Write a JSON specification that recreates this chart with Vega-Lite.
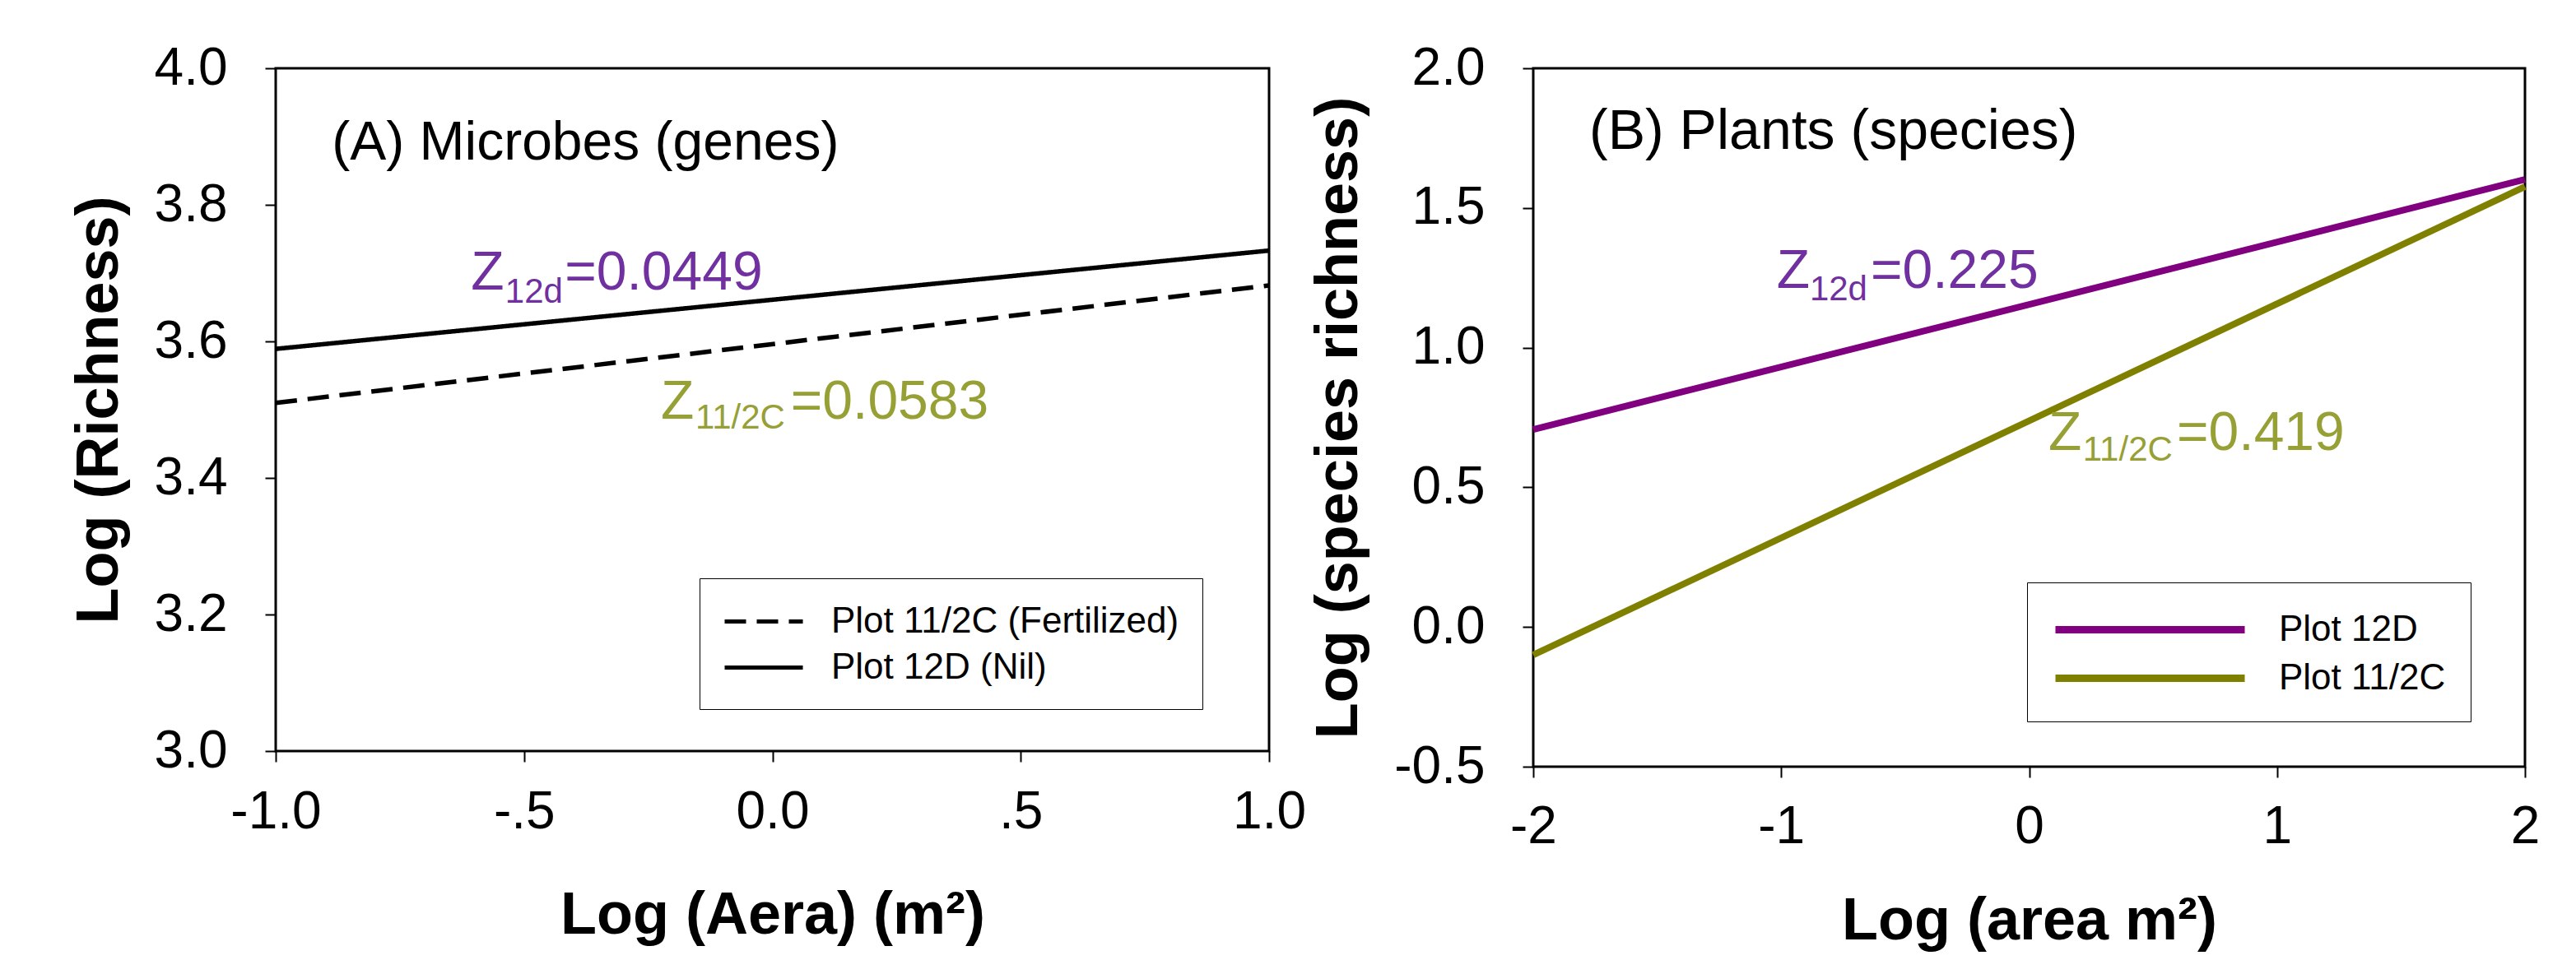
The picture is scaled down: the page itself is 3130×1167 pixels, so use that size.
{
  "$schema": "https://vega.github.io/schema/vega-lite/v6.json",
  "background": "white",
  "padding": {"left": 82, "top": 49, "right": 10, "bottom": 10},
  "config": {
    "font": "Liberation Sans",
    "view": {"stroke": "black", "strokeWidth": 3},
    "axis": {
      "domain": false, "grid": false, "ticks": true, "tickSize": 13, "tickWidth": 2, "tickColor": "black",
      "labelFont": "Liberation Sans", "labelFontSize": 64, "labelColor": "black", "labelFlush": false, "labelOverlap": false,
      "titleFont": "Liberation Sans", "titleFontSize": 72, "titleFontWeight": "bold", "titleColor": "black"
    },
    "legend": {
      "labelFont": "Liberation Sans", "labelFontSize": 44, "labelColor": "black", "labelLimit": 1000,
      "strokeColor": "black", "fillColor": "white"
    }
  },
  "datasets": {
    "linesA": [
      {"area": -1, "richness": 3.510, "plot": "Plot 11/2C (Fertilized)"},
      {"area": 1, "richness": 3.682, "plot": "Plot 11/2C (Fertilized)"},
      {"area": -1, "richness": 3.589, "plot": "Plot 12D (Nil)"},
      {"area": 1, "richness": 3.733, "plot": "Plot 12D (Nil)"}
    ],
    "linesB": [
      {"area": -2, "richness": 0.707, "plot": "Plot 12D"},
      {"area": 2, "richness": 1.602, "plot": "Plot 12D"},
      {"area": -2, "richness": -0.100, "plot": "Plot 11/2C"},
      {"area": 2, "richness": 1.576, "plot": "Plot 11/2C"}
    ],
    "notesA": [
      {"x": -0.887, "y": 3.866, "text": "(A) Microbes (genes)", "part": "head"},
      {"x": -0.607, "y": 3.6755, "text": "Z", "part": "main12"},
      {"x": -0.538, "y": 3.657, "text": "12d", "part": "sub12"},
      {"x": -0.418, "y": 3.6755, "text": "=0.0449", "part": "main12"},
      {"x": -0.2245, "y": 3.487, "text": "Z", "part": "main11"},
      {"x": -0.155, "y": 3.472, "text": "11/2C", "part": "sub11"},
      {"x": 0.037, "y": 3.487, "text": "=0.0583", "part": "main11"}
    ],
    "notesB": [
      {"x": -1.774, "y": 1.711, "text": "(B) Plants (species)", "part": "head"},
      {"x": -1.018, "y": 1.214, "text": "Z", "part": "main12"},
      {"x": -0.885, "y": 1.170, "text": "12d", "part": "sub12"},
      {"x": -0.639, "y": 1.214, "text": "=0.225", "part": "main12"},
      {"x": 0.078, "y": 0.634, "text": "Z", "part": "main11"},
      {"x": 0.217, "y": 0.595, "text": "11/2C", "part": "sub11"},
      {"x": 0.596, "y": 0.634, "text": "=0.419", "part": "main11"}
    ]
  },
  "bounds": "flush",
  "spacing": 321,
  "resolve": {"legend": {"strokeDash": "independent", "color": "independent"}},
  "hconcat": [
    {
      "width": 1207,
      "height": 830,
      "encoding": {
        "x": {
          "field": "area", "type": "quantitative",
          "scale": {"domain": [-1, 1], "nice": false, "zero": false},
          "axis": {
            "values": [-1, -0.5, 0, 0.5, 1],
            "labelExpr": "datum.value === -0.5 ? '-.5' : datum.value === 0.5 ? '.5' : (datum.value < 0 ? '-' + format(-datum.value, '.1f') : format(datum.value, '.1f'))",
            "labelPadding": 29, "title": "Log (Aera) (m²)", "titlePadding": 58
          }
        },
        "y": {
          "field": "richness", "type": "quantitative",
          "scale": {"domain": [3, 4], "nice": false, "zero": false},
          "axis": {
            "values": [3, 3.2, 3.4, 3.6, 3.8, 4], "format": ".1f",
            "labelPadding": 46, "title": "Log (Richness)", "titlePadding": 30
          }
        }
      },
      "layer": [
        {
          "data": {"name": "linesA"},
          "mark": {"type": "line", "color": "black", "strokeWidth": 5.5},
          "encoding": {
            "strokeDash": {
              "field": "plot", "type": "nominal",
              "scale": {"domain": ["Plot 11/2C (Fertilized)", "Plot 12D (Nil)"], "range": [[26, 13], [1, 0]]},
              "legend": {
                "title": null, "orient": "none", "legendX": 515, "legendY": 620,
                "symbolType": "M-1,0H3.32", "symbolSize": 1936, "symbolStrokeWidth": 5, "symbolStrokeColor": "black",
                "labelOffset": 83, "padding": 28, "rowPadding": 9
              }
            }
          }
        },
        {
          "data": {"name": "notesA"},
          "transform": [{"filter": "datum.part === 'head'"}],
          "mark": {"type": "text", "align": "left", "baseline": "alphabetic", "fontSize": 66, "color": "black"},
          "encoding": {"x": {"field": "x", "type": "quantitative"}, "y": {"field": "y", "type": "quantitative"}, "text": {"field": "text"}}
        },
        {
          "data": {"name": "notesA"},
          "transform": [{"filter": "datum.part === 'main12'"}],
          "mark": {"type": "text", "align": "left", "baseline": "alphabetic", "fontSize": 66, "color": "#7030A0"},
          "encoding": {"x": {"field": "x", "type": "quantitative"}, "y": {"field": "y", "type": "quantitative"}, "text": {"field": "text"}}
        },
        {
          "data": {"name": "notesA"},
          "transform": [{"filter": "datum.part === 'sub12'"}],
          "mark": {"type": "text", "align": "left", "baseline": "alphabetic", "fontSize": 42, "color": "#7030A0"},
          "encoding": {"x": {"field": "x", "type": "quantitative"}, "y": {"field": "y", "type": "quantitative"}, "text": {"field": "text"}}
        },
        {
          "data": {"name": "notesA"},
          "transform": [{"filter": "datum.part === 'main11'"}],
          "mark": {"type": "text", "align": "left", "baseline": "alphabetic", "fontSize": 66, "color": "#96A035"},
          "encoding": {"x": {"field": "x", "type": "quantitative"}, "y": {"field": "y", "type": "quantitative"}, "text": {"field": "text"}}
        },
        {
          "data": {"name": "notesA"},
          "transform": [{"filter": "datum.part === 'sub11'"}],
          "mark": {"type": "text", "align": "left", "baseline": "alphabetic", "fontSize": 42, "color": "#96A035"},
          "encoding": {"x": {"field": "x", "type": "quantitative"}, "y": {"field": "y", "type": "quantitative"}, "text": {"field": "text"}}
        }
      ]
    },
    {
      "width": 1205,
      "height": 849,
      "encoding": {
        "x": {
          "field": "area", "type": "quantitative",
          "scale": {"domain": [-2, 2], "nice": false, "zero": false},
          "axis": {
            "values": [-2, -1, 0, 1, 2],
            "labelExpr": "datum.value < 0 ? '-' + format(-datum.value, 'd') : format(datum.value, 'd')",
            "labelPadding": 28, "title": "Log (area m²)", "titlePadding": 47
          }
        },
        "y": {
          "field": "richness", "type": "quantitative",
          "scale": {"domain": [-0.5, 2], "nice": false, "zero": false},
          "axis": {
            "values": [-0.5, 0, 0.5, 1, 1.5, 2],
            "labelExpr": "datum.value < 0 ? '-' + format(-datum.value, '.1f') : format(datum.value, '.1f')",
            "labelPadding": 46, "title": "Log (species richness)", "titlePadding": 30
          }
        }
      },
      "layer": [
        {
          "data": {"name": "linesB"},
          "mark": {"type": "line", "strokeWidth": 8},
          "encoding": {
            "color": {
              "field": "plot", "type": "nominal",
              "scale": {"domain": ["Plot 12D", "Plot 11/2C"], "range": ["#800080", "#808000"]},
              "legend": {
                "title": null, "orient": "none", "legendX": 600, "legendY": 625,
                "symbolType": "M-1,0H9", "symbolSize": 2116, "symbolStrokeWidth": 9,
                "labelOffset": 221, "padding": 30, "rowPadding": 9
              }
            }
          }
        },
        {
          "data": {"name": "notesB"},
          "transform": [{"filter": "datum.part === 'head'"}],
          "mark": {"type": "text", "align": "left", "baseline": "alphabetic", "fontSize": 68, "color": "black"},
          "encoding": {"x": {"field": "x", "type": "quantitative"}, "y": {"field": "y", "type": "quantitative"}, "text": {"field": "text"}}
        },
        {
          "data": {"name": "notesB"},
          "transform": [{"filter": "datum.part === 'main12'"}],
          "mark": {"type": "text", "align": "left", "baseline": "alphabetic", "fontSize": 66, "color": "#7030A0"},
          "encoding": {"x": {"field": "x", "type": "quantitative"}, "y": {"field": "y", "type": "quantitative"}, "text": {"field": "text"}}
        },
        {
          "data": {"name": "notesB"},
          "transform": [{"filter": "datum.part === 'sub12'"}],
          "mark": {"type": "text", "align": "left", "baseline": "alphabetic", "fontSize": 42, "color": "#7030A0"},
          "encoding": {"x": {"field": "x", "type": "quantitative"}, "y": {"field": "y", "type": "quantitative"}, "text": {"field": "text"}}
        },
        {
          "data": {"name": "notesB"},
          "transform": [{"filter": "datum.part === 'main11'"}],
          "mark": {"type": "text", "align": "left", "baseline": "alphabetic", "fontSize": 66, "color": "#96A035"},
          "encoding": {"x": {"field": "x", "type": "quantitative"}, "y": {"field": "y", "type": "quantitative"}, "text": {"field": "text"}}
        },
        {
          "data": {"name": "notesB"},
          "transform": [{"filter": "datum.part === 'sub11'"}],
          "mark": {"type": "text", "align": "left", "baseline": "alphabetic", "fontSize": 42, "color": "#96A035"},
          "encoding": {"x": {"field": "x", "type": "quantitative"}, "y": {"field": "y", "type": "quantitative"}, "text": {"field": "text"}}
        }
      ]
    }
  ]
}
